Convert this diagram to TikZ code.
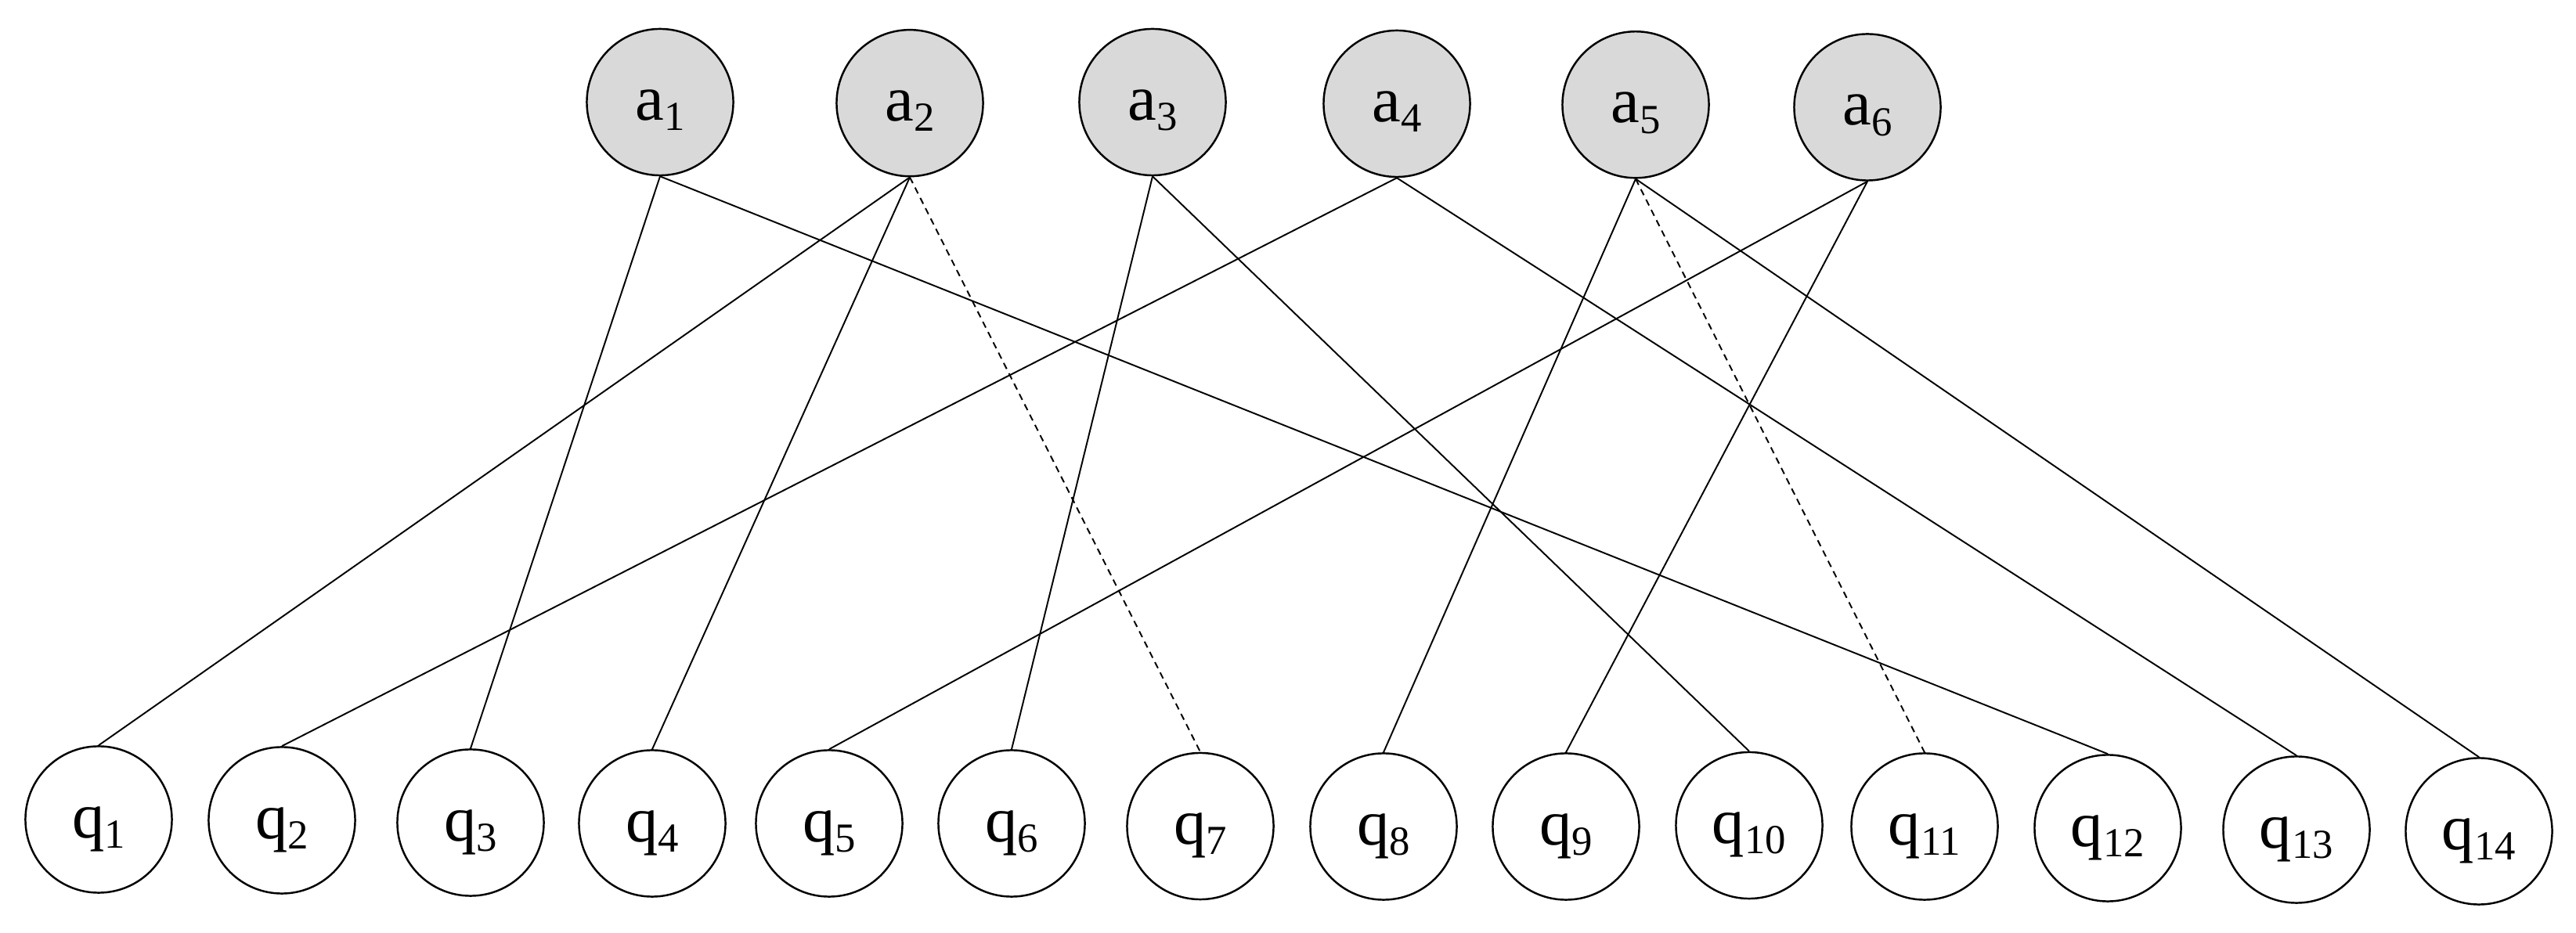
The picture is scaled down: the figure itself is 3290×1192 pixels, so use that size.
\documentclass[tikz,border=0pt]{standalone}
\usepackage{fontspec}
\setmainfont{Liberation Serif}
\definecolor{agray}{RGB}{217,217,217}
\newcommand{\lbl}[2]{#1\raisebox{-0.16em}{\fontsize{15}{15}\selectfont #2}}
\begin{document}
\begin{tikzpicture}[x=0.01cm,y=-0.01cm,
  basenode/.style={circle,draw,line width=0.7pt,minimum size=1.87cm,inner sep=0pt,
    text height=0.48cm,text depth=0.02cm,font=\fontsize{23.5}{23.5}\selectfont},
  anode/.style={basenode,fill=agray},
  qnode/.style={basenode,fill=white},
  link/.style={line width=0.55pt},
  dlink/.style={link,dash pattern=on 2.4pt off 1.8pt}]
\useasboundingbox (0,0) rectangle (3290,1192);
% top row
\node[anode] (a1) at (843,130.5) {\lbl{a}{1}};
\node[anode] (a2) at (1162,131.7) {\lbl{a}{2}};
\node[anode] (a3) at (1472,130.5) {\lbl{a}{3}};
\node[anode] (a4) at (1784,132.5) {\lbl{a}{4}};
\node[anode] (a5) at (2089,133.8) {\lbl{a}{5}};
\node[anode] (a6) at (2385,137) {\lbl{a}{6}};
% bottom row
\node[qnode] (q1) at (126,1047) {\lbl{q}{1}};
\node[qnode] (q2) at (360,1048) {\lbl{q}{2}};
\node[qnode] (q3) at (601,1051) {\lbl{q}{3}};
\node[qnode] (q4) at (833,1052) {\lbl{q}{4}};
\node[qnode] (q5) at (1059,1052) {\lbl{q}{5}};
\node[qnode] (q6) at (1292,1052) {\lbl{q}{6}};
\node[qnode] (q7) at (1533,1055.5) {\lbl{q}{7}};
\node[qnode] (q8) at (1767,1056) {\lbl{q}{8}};
\node[qnode] (q9) at (2000,1056) {\lbl{q}{9}};
\node[qnode] (q10) at (2234,1054.5) {\lbl{q}{10}};
\node[qnode] (q11) at (2458,1056) {\lbl{q}{11}};
\node[qnode] (q12) at (2692,1058) {\lbl{q}{12}};
\node[qnode] (q13) at (2933,1060) {\lbl{q}{13}};
\node[qnode] (q14) at (3166,1062) {\lbl{q}{14}};
% edges
\draw[link] (a1.south) -- (q3.north);
\draw[link] (a1.south) -- (q12.north);
\draw[link] (a2.south) -- (q1.north);
\draw[link] (a2.south) -- (q4.north);
\draw[dlink] (a2.south) -- (q7.north);
\draw[link] (a3.south) -- (q6.north);
\draw[link] (a3.south) -- (q10.north);
\draw[link] (a4.south) -- (q2.north);
\draw[link] (a4.south) -- (q13.north);
\draw[link] (a5.south) -- (q8.north);
\draw[dlink] (a5.south) -- (q11.north);
\draw[link] (a5.south) -- (q14.north);
\draw[link] (a6.south) -- (q5.north);
\draw[link] (a6.south) -- (q9.north);
\end{tikzpicture}
\end{document}
